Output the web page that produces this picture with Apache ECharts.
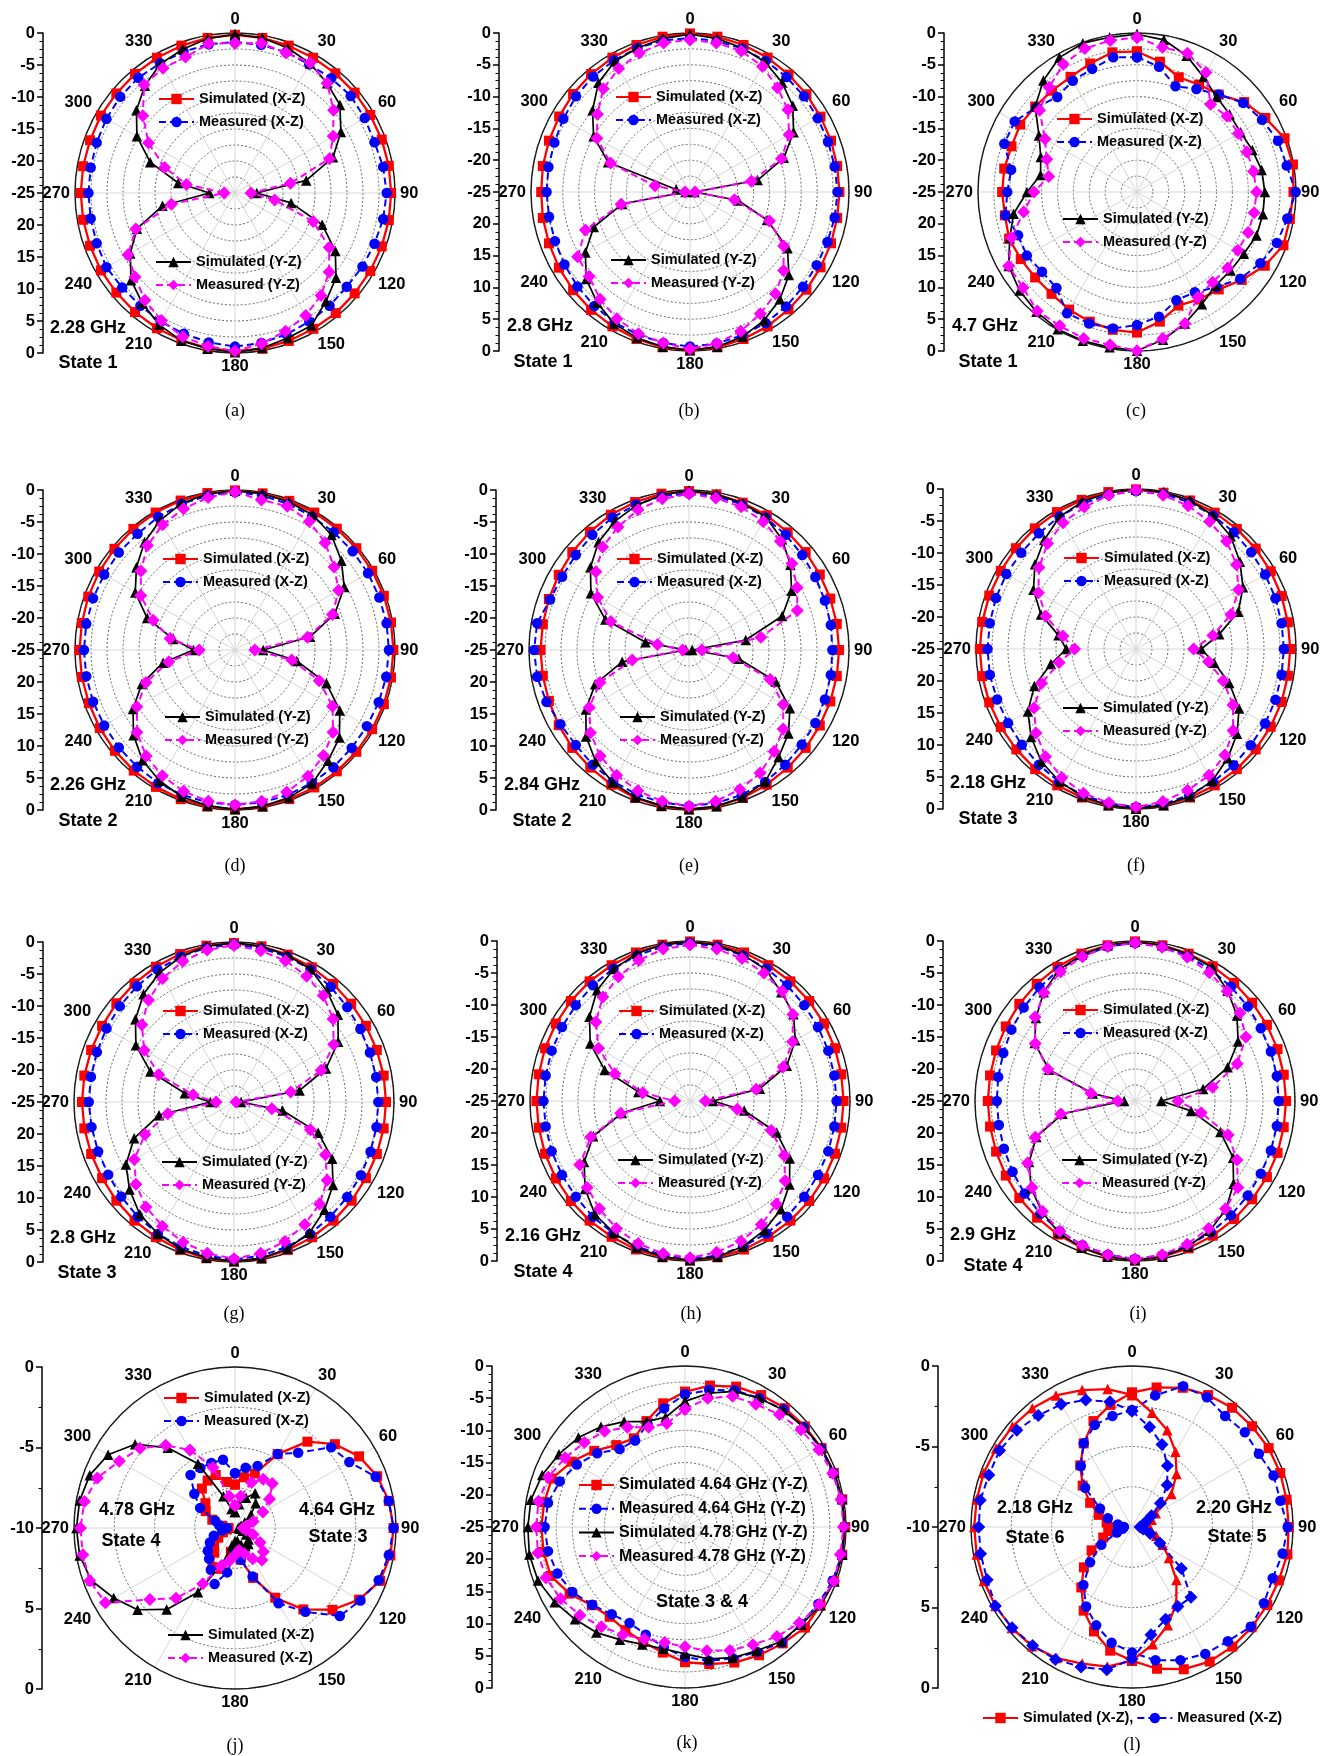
<!DOCTYPE html>
<html><head><meta charset="utf-8">
<script src="https://cdn.jsdelivr.net/npm/echarts/dist/echarts.min.js"></script>
<style>html,body{margin:0;padding:0;background:#fff}#c{width:1326px;height:1756px}</style>
</head><body><div id="c"></div>
<script>
const ANGLES = [0,10,20,30,40,50,60,70,80,90,100,110,120,130,140,150,160,170,180,190,200,210,220,230,240,250,260,270,280,290,300,310,320,330,340,350];
const ANGLE_LABELS = ['0','30','60','90','120','150','180','210','240','270','300','330'];
const TICKS_25 = ['0','-5','-10','-15','-20','-25','20','15','10','5','0'];
const TICKS_10 = ['0','-5','-10','5','0'];

// (a) 2.28 GHz State 1
const a_simXZ = [-0.3,-0.4,-0.5,-0.6,-0.6,-0.6,-0.6,-0.6,-0.6, -0.6,-0.6,-0.6,-0.6,-0.6,-0.5,-0.5,-0.4,-0.3, -0.3,-0.4,-0.5,-0.6,-0.7,-0.8,-0.8,-0.9,-0.9, -0.9,-0.9,-0.9,-0.8,-0.8,-0.7,-0.6,-0.5,-0.4];
const a_measXZ = [-1.4,-1.5,-1.6,-1.8,-1.6,-1.4,-1.6,-1.8,-1.5, -1.3,-1.5,-1.8,-2.0,-2.2,-2.0,-1.8,-1.5,-1.2, -1.0,-1.3,-1.6,-1.8,-2.0,-2.0,-1.8,-2.0,-2.1, -2.1,-2.1,-2.0,-1.8,-1.6,-1.5,-1.6,-1.5,-1.4];
const a_simYZ = [-0.2,-0.4,-0.9,-1.6,-2.6,-3.6,-5.9,-8.7,-13.7, -21.6,-16.1,-10.5,-6.9,-4.4,-2.9,-1.1,-0.9,-0.4, -0.1,-0.3,-0.45,-1.25,-2.5,-3.8,-6.1,-8.7,-13.5, -21.0,-16.0,-10.9,-7.3,-4.9,-3.1,-1.7,-1.1,-0.5];
const a_measYZ = [-1.6,-1.25,-1.7,-1.5,-2.6,-4.9,-7.3,-9.3,-16.2, -22.5,-18.7,-12.0,-8.0,-5.8,-4.1,-2.9,-2.0,-1.1, -0.3,-0.7,-1.1,-2.0,-3.1,-4.6,-5.7,-8.5,-14.9, -23.3,-17.3,-13.3,-9.4,-6.2,-2.9,-2.5,-2.4,-1.3];
// (b) 2.8 GHz State 1
const b_simXZ = [-0.1,-0.2,-0.4,-0.6,-0.9,-1.1,-1.3,-1.4,-1.5, -1.5,-1.5,-1.4,-1.3,-1.1,-0.9,-0.6,-0.4,-0.2, -0.1,-0.2,-0.4,-0.6,-0.8,-1.0,-1.2,-1.4,-1.5, -1.6,-1.5,-1.4,-1.25,-1.0,-0.8,-0.6,-0.4,-0.2];
const b_measXZ = [-0.8,-0.9,-1.0,-1.2,-1.4,-1.6,-1.8,-1.9,-1.9, -1.8,-1.9,-2.0,-2.0,-1.8,-1.5,-1.2,-1.0,-0.8, -0.7,-0.9,-1.1,-1.3,-1.6,-1.9,-2.2,-2.4,-2.5, -2.45,-2.4,-2.3,-2.0,-1.6,-1.3,-1.1,-0.9,-0.8];
const b_simYZ = [-0.2,-0.5,-0.9,-1.4,-2.5,-3.9,-6.2,-9.3,-14.2, -24.3,-17.3,-12.1,-7.3,-4.7,-3.0,-1.7,-0.8,-0.3, -0.1,-0.3,-0.6,-1.1,-2.3,-3.7,-6.0,-8.9,-14.2, -24.3,-22.8,-11.3,-7.5,-5.0,-2.6,-1.3,-0.9,-0.5];
const b_measYZ = [-1.05,-1.2,-1.4,-2.2,-3.6,-4.9,-7.0,-9.7,-15.2, -24.2,-17.9,-11.7,-8.0,-5.8,-4.1,-2.9,-1.7,-0.8, -0.35,-0.9,-1.3,-2.0,-3.0,-4.3,-4.6,-7.5,-14.0, -24.2,-19.4,-11.7,-8.1,-6.0,-3.8,-2.6,-1.75,-1.2];
// (c) 4.7 GHz State 1
const c_simXZ = [-2.9,-4.2,-5.8,-5.5,-5.0,-3.0,-1.7,-0.3,-0.1, -0.4,-0.6,-0.5,-1.8,-3.5,-5.0,-5.5,-6.0,-4.3, -2.9,-3.0,-3.3,-3.65,-4.1,-4.1,-3.9,-3.6,-3.9, -3.8,-3.8,-4.0,-3.8,-4.1,-4.2,-4.1,-3.5,-2.7];
const c_measXZ = [-3.8,-5.0,-7.3,-6.3,-5.0,-3.2,-2.3,-1.4,-1.1, -0.05,-1.0,-1.6,-2.6,-3.8,-5.5,-6.8,-6.9,-5.1, -4.1,-3.2,-3.0,-3.0,-5.3,-5.5,-5.0,-5.1,-4.0, -4.6,-4.9,-2.8,-2.8,-4.3,-5.5,-4.8,-4.4,-3.5];
const c_simYZ = [-0.2,-0.7,-2.2,-4.1,-5.5,-6.0,-6.2,-5.7,-5.1, -4.9,-4.9,-5.0,-5.6,-5.8,-5.8,-4.6,-3.0,-1.4, -0.05,-0.2,-0.1,-0.1,-0.4,-0.9,-1.7,-3.7,-5.3, -7.7,-9.6,-8.9,-7.2,-4.1,-2.1,-0.6,-0.1,-0.3];
const c_measYZ = [-0.7,-1.9,-1.8,-3.3,-7.0,-6.5,-6.6,-6.6,-6.4, -6.2,-6.3,-6.4,-6.7,-6.4,-6.5,-5.9,-3.0,-1.6, -0.05,-0.6,-0.5,-0.7,-0.6,-1.6,-1.7,-4.0,-6.9, -8.8,-10.9,-9.9,-8.3,-5.0,-3.5,-1.8,-1.0,-0.8];
// (d) 2.26 GHz State 2
const d_simXZ = [-0.1,-0.15,-0.2,-0.2,-0.25,-0.25,-0.25,-0.25,-0.25, -0.25,-0.25,-0.25,-0.25,-0.25,-0.25,-0.2,-0.2,-0.15, -0.1,-0.15,-0.2,-0.3,-0.4,-0.5,-0.6,-0.7,-0.7, -0.7,-0.7,-0.6,-0.5,-0.4,-0.3,-0.2,-0.15,-0.1];
const d_measXZ = [-0.3,-0.5,-0.7,-0.9,-1.0,-1.0,-1.0,-1.0,-0.95, -0.95,-1.0,-1.1,-1.2,-1.2,-1.1,-1.0,-0.9,-0.8, -0.8,-0.8,-0.9,-1.0,-1.2,-1.3,-1.4,-1.4,-1.4, -1.4,-1.4,-1.4,-1.4,-1.3,-1.3,-1.0,-0.7,-0.5];
const d_simYZ = [-0.1,-0.2,-0.4,-0.65,-1.55,-3.3,-5.3,-8.4,-13.1, -20.6,-15.2,-9.8,-6.1,-3.7,-2.4,-0.9,-0.45,-0.2, -0.1,-0.3,-0.6,-1.4,-2.5,-4.3,-6.6,-9.5,-13.6, -18.5,-15.2,-10.4,-7.0,-4.9,-3.0,-1.6,-0.6,-0.25];
const d_measYZ = [-0.3,-1.2,-1.1,-1.8,-3.1,-4.8,-6.3,-8.8,-13.5, -21.9,-16.0,-11.0,-7.4,-5.0,-3.5,-2.2,-1.4,-1.0, -0.8,-1.0,-1.5,-2.3,-3.4,-5.0,-7.3,-10.2,-14.5, -19.4,-14.7,-11.4,-8.0,-5.8,-3.7,-2.4,-1.5,-0.8];
// (e) 2.84 GHz State 2
const e_simXZ = [-0.2,-0.3,-0.5,-0.7,-1.0,-1.2,-1.4,-1.5,-1.55, -1.55,-1.55,-1.5,-1.4,-1.2,-1.0,-0.7,-0.4,-0.2, -0.1,-0.2,-0.4,-0.7,-1.0,-1.2,-1.5,-1.7,-1.8, -1.8,-1.8,-1.7,-1.5,-1.2,-0.9,-0.6,-0.4,-0.2];
const e_measXZ = [-0.5,-0.6,-0.8,-1.1,-1.5,-1.9,-2.2,-2.4,-2.5, -2.6,-2.5,-2.4,-2.2,-2.0,-1.6,-1.2,-0.9,-0.7, -0.6,-0.8,-1.0,-1.3,-1.6,-1.9,-1.8,-1.3,-0.9, -0.8,-0.9,-1.9,-2.1,-1.9,-1.5,-1.1,-0.8,-0.6];
const e_simYZ = [-0.1,-0.3,-0.6,-1.0,-2.4,-4.3,-6.5,-9.5,-16.0, -24.5,-17.1,-10.6,-6.8,-4.7,-3.2,-1.2,-0.5,-0.2, -0.1,-0.3,-0.5,-1.1,-2.3,-4.0,-6.4,-9.4,-14.4, -24.5,-18.1,-11.1,-7.3,-4.9,-3.0,-1.8,-0.95,-0.4];
const e_measYZ = [-0.6,-0.9,-1.2,-1.8,-2.8,-4.0,-5.5,-7.0,-13.6, -23.0,-18.0,-11.5,-8.0,-5.8,-4.3,-2.8,-1.8,-1.0, -0.6,-1.0,-1.6,-2.4,-3.4,-4.9,-7.0,-10.2,-16.0, -24.0,-20.0,-12.0,-8.5,-6.0,-4.0,-2.8,-1.7,-1.0];
// (f) 2.18 GHz State 3
const f_simXZ = [-0.1,-0.2,-0.3,-0.4,-0.5,-0.6,-0.7,-0.8,-0.9, -0.9,-0.9,-0.8,-0.7,-0.6,-0.5,-0.4,-0.3,-0.2, -0.1,-0.2,-0.3,-0.4,-0.5,-0.6,-0.6,-0.6,-0.6, -0.6,-0.6,-0.6,-0.6,-0.5,-0.4,-0.3,-0.2,-0.1];
const f_measXZ = [-0.3,-0.4,-0.6,-0.9,-1.2,-1.5,-1.7,-1.8,-1.9, -1.9,-1.9,-1.8,-1.7,-1.6,-1.3,-1.0,-0.7,-0.4, -0.3,-0.5,-0.7,-1.0,-1.4,-1.7,-1.9,-1.9,-1.8, -1.8,-1.8,-1.7,-1.6,-1.6,-1.4,-1.1,-0.8,-0.5];
const f_simYZ = [-0.05,-0.1,-0.3,-0.9,-2.0,-3.8,-5.7,-8.0,-11.8, -14.8,-12.6,-9.5,-6.4,-4.4,-2.7,-1.2,-0.5,-0.2, -0.05,-0.2,-0.5,-1.1,-2.0,-3.6,-5.5,-8.1,-11.5, -14.1,-12.7,-9.2,-6.5,-4.4,-2.7,-1.15,-0.5,-0.2];
const f_measYZ = [-0.2,-0.6,-1.2,-2.0,-3.0,-4.5,-6.5,-9.2,-12.8, -16.0,-13.5,-10.5,-7.5,-5.2,-3.4,-2.2,-1.5,-0.8, -0.3,-0.6,-1.0,-1.8,-3.0,-4.6,-6.6,-9.3,-12.8, -15.4,-13.4,-10.0,-7.4,-5.2,-3.5,-2.2,-1.4,-0.6];
// (g) 2.8 GHz State 3
const g_simXZ = [-0.2,-0.3,-0.5,-0.7,-0.9,-1.1,-1.2,-1.25,-1.25, -1.25,-1.25,-1.25,-1.2,-1.0,-0.8,-0.6,-0.4,-0.2, -0.1,-0.2,-0.4,-0.6,-0.8,-1.0,-1.2,-1.25,-1.25, -1.25,-1.25,-1.25,-1.2,-1.0,-0.8,-0.6,-0.4,-0.2];
const g_measXZ = [-0.4,-0.6,-0.8,-1.1,-1.5,-1.9,-2.2,-2.4,-2.45, -2.45,-2.4,-2.3,-2.1,-1.9,-1.6,-1.2,-0.9,-0.6, -0.4,-0.6,-0.9,-1.2,-1.6,-2.0,-2.3,-2.4,-2.4, -2.3,-2.3,-2.2,-2.0,-1.7,-1.4,-1.1,-0.8,-0.5];
const g_simYZ = [-0.1,-0.3,-0.6,-1.05,-2.4,-3.8,-6.2,-9.7,-14.6, -23.9,-17.3,-11.0,-7.3,-4.8,-3.0,-1.4,-0.6,-0.2, -0.1,-0.3,-0.6,-1.2,-2.1,-3.7,-5.5,-8.4,-13.1, -21.3,-17.2,-11.1,-7.3,-4.9,-3.0,-1.7,-0.8,-0.3];
const g_measYZ = [-0.5,-1.0,-1.5,-2.3,-3.3,-4.8,-7.0,-10.5,-16.0, -24.7,-19.0,-12.3,-8.5,-6.0,-4.2,-2.9,-1.8,-1.0, -0.5,-1.0,-1.7,-2.6,-3.6,-5.0,-7.0,-10.2,-14.5, -22.2,-18.5,-12.5,-8.8,-6.2,-4.2,-2.7,-1.6,-0.9];
// (h) 2.16 GHz State 4
const h_simXZ = [-0.1,-0.2,-0.3,-0.5,-0.6,-0.7,-0.8,-0.9,-1.0, -1.0,-1.0,-0.9,-0.8,-0.7,-0.6,-0.5,-0.3,-0.2, -0.1,-0.2,-0.3,-0.5,-0.6,-0.7,-0.8,-0.9,-1.0, -1.0,-1.0,-0.9,-0.8,-0.7,-0.6,-0.5,-0.3,-0.2];
const h_measXZ = [-0.3,-0.5,-0.8,-1.1,-1.4,-1.7,-1.9,-2.0,-2.1, -2.1,-2.1,-2.0,-1.9,-1.7,-1.4,-1.1,-0.8,-0.5, -0.3,-0.5,-0.8,-1.1,-1.4,-1.7,-1.9,-2.0,-2.1, -2.1,-2.1,-2.0,-1.9,-1.7,-1.4,-1.1,-0.8,-0.5];
const h_simYZ = [-0.1,-0.3,-0.7,-1.3,-2.8,-3.9,-6.0,-8.9,-13.9, -21.4,-16.4,-10.6,-7.0,-4.7,-2.9,-1.7,-0.8,-0.3, -0.1,-0.3,-0.6,-1.2,-1.9,-3.6,-5.9,-8.9,-14.2, -20.3,-16.8,-10.8,-7.0,-4.5,-2.4,-1.2,-0.5,-0.2];
const h_measYZ = [-0.6,-0.9,-1.3,-1.9,-2.6,-4.0,-6.5,-9.5,-14.5, -22.6,-17.5,-11.5,-8.0,-5.6,-4.0,-2.7,-1.7,-1.0, -0.5,-0.8,-1.3,-2.0,-3.0,-4.0,-5.1,-8.5,-14.0, -22.6,-17.5,-12.5,-8.5,-5.8,-3.8,-2.6,-1.6,-0.9];
// (i) 2.9 GHz State 4
const i_simXZ = [-0.1,-0.3,-0.5,-0.7,-0.9,-1.1,-1.2,-1.3,-1.4, -1.4,-1.4,-1.3,-1.2,-1.1,-0.9,-0.7,-0.5,-0.3, -0.1,-0.3,-0.6,-0.9,-1.2,-1.4,-1.7,-1.9,-2.0, -2.0,-2.0,-1.9,-1.7,-1.4,-1.1,-0.8,-0.5,-0.3];
const i_measXZ = [-0.3,-0.5,-0.9,-1.3,-1.7,-2.0,-2.3,-2.4,-2.5, -2.55,-2.5,-2.4,-2.3,-2.0,-1.7,-1.3,-0.9,-0.5, -0.3,-0.6,-1.0,-1.5,-2.0,-2.5,-2.9,-3.2,-3.4, -3.4,-3.3,-3.1,-2.7,-2.3,-1.8,-1.3,-0.9,-0.5];
const i_simYZ = [-0.1,-0.3,-0.6,-0.9,-2.5,-4.2,-6.4,-9.6,-14.2, -20.9,-16.1,-10.8,-7.3,-4.9,-2.9,-1.6,-0.8,-0.3, -0.1,-0.3,-0.6,-1.2,-2.4,-3.8,-5.9,-8.6,-13.5, -23.3,-18.3,-10.7,-6.9,-4.8,-2.8,-1.3,-0.7,-0.3];
const i_measYZ = [-0.3,-0.6,-1.1,-1.8,-2.6,-3.6,-5.0,-8.0,-12.7, -18.3,-14.5,-9.5,-6.6,-4.0,-3.0,-2.0,-1.2,-0.6, -0.3,-0.6,-1.0,-1.5,-2.5,-4.0,-5.6,-8.4,-13.2, -22.3,-18.0,-10.5,-7.0,-4.6,-2.9,-1.7,-1.0,-0.5];
// (j) 4.64 GHz State 3 / 4.78 GHz State 4 (X-Z)
const j_sim464 = [-7.3,-6.8,-6.4,-4.7,-3.0,-1.9,-1.1,-0.6,-0.3, -0.15,-0.2,-0.4,-1.1,-2.1,-3.4,-5.0,-6.7,-8.0, -8.6,-8.5,-7.3,-7.2,-8.0,-8.3,-8.8,-9.2,-9.5, -9.6,-9.2,-8.5,-7.9,-7.6,-6.8,-6.6,-6.5,-7.1];
const j_meas464 = [-6.6,-6.2,-5.9,-4.7,-3.9,-2.2,-1.8,-0.7,-0.3, -0.15,-0.3,-0.5,-1.0,-1.5,-3.2,-4.6,-6.8,-8.0, -8.5,-7.2,-6.3,-7.0,-7.5,-7.8,-8.2,-8.6,-9.2, -9.5,-9.0,-8.7,-7.5,-6.7,-5.7,-5.7,-5.7,-5.7];
const j_sim478 = [-9.0,-8.5,-8.0,-7.5,-8.0,-8.7,-9.3,-9.6,-9.7, -9.8,-9.7,-9.5,-9.2,-8.9,-8.7,-8.7,-8.9,-9.2, -9.2,-8.9,-7.6,-5.4,-3.4,-2.1,-1.3,-0.5,-0.2, -0.15,-0.2,-0.4,-0.9,-1.9,-3.5,-5.4,-7.9,-8.8];
const j_meas478 = [-8.6,-8.0,-7.0,-6.5,-6.4,-7.2,-8.0,-8.8,-9.3, -9.5,-9.3,-8.8,-8.2,-7.7,-7.4,-7.8,-8.3,-8.6, -8.3,-7.9,-7.5,-6.0,-4.3,-3.1,-0.7,-0.4,-0.4, -0.4,-0.5,-0.9,-1.7,-2.3,-3.3,-4.4,-6.0,-8.0];
// (k) State 3 & 4 (Y-Z)
const k_sim464 = [-4.0,-2.7,-1.8,-1.35,-0.9,-0.7,-0.5,-0.4,-0.2, -0.1,-0.2,-0.4,-0.7,-0.7,-1.4,-2.0,-2.6,-3.4, -4.0,-5.2,-6.0,-6.5,-6.8,-6.1,-4.3,-2.8,-2.7, -2.7,-2.8,-3.0,-4.7,-6.6,-8.4,-9.1,-7.5,-5.5];
const k_meas464 = [-4.4,-3.4,-2.4,-1.9,-1.2,-0.9,-0.6,-0.5,-0.3, -0.3,-0.3,-0.6,-1.1,-1.55,-1.6,-2.6,-3.3,-3.9, -4.8,-6.0,-7.2,-7.8,-7.3,-6.2,-4.8,-3.9,-3.4, -3.2,-3.4,-4.3,-5.6,-7.2,-9.2,-9.5,-8.0,-6.3];
const k_sim478 = [-5.5,-3.9,-2.6,-1.9,-1.3,-0.9,-0.5,-0.3,-0.2, -0.2,-0.2,-0.3,-0.7,-1.4,-1.8,-2.8,-3.4,-4.2, -5.3,-5.8,-5.6,-4.8,-3.6,-2.7,-1.65,-0.7,-0.45, -0.6,-0.7,-1.4,-2.4,-3.4,-4.7,-6.1,-7.6,-7.7];
const k_meas478 = [-6.7,-4.7,-3.4,-3.0,-2.2,-1.5,-1.0,-0.6,-0.4, -0.4,-0.5,-0.4,-0.9,-1.8,-2.8,-3.9,-4.6,-5.5, -6.4,-6.8,-6.5,-5.7,-4.8,-3.7,-2.7,-2.0,-1.8, -1.9,-1.9,-2.4,-3.5,-4.6,-5.6,-7.1,-8.5,-8.7];
// (l) 2.20 GHz State 5 / 2.18 GHz State 6 (X-Z)
const l_sim220 = [-1.65,-1.2,-0.8,-0.54,-0.33,-0.27,-0.2,-0.2,-0.25, -0.27,-0.2,-0.3,-0.3,-0.3,-0.3,-0.35,-0.6,-1.06, -1.7,-2.2,-3.1,-4.0,-5.1,-6.1,-7.1,-8.1,-8.5, -8.8,-8.4,-7.8,-7.0,-6.0,-5.0,-4.0,-3.0,-2.3];
const l_meas220 = [-2.75,-1.7,-0.7,-0.7,-1.0,-0.85,-0.9,-0.64,-0.64, -0.33,-0.5,-0.7,-0.54,-0.37,-0.74,-0.9,-1.2,-1.6, -2.2,-2.7,-3.5,-4.3,-5.3,-6.6,-7.8,-9.0,-9.4, -9.5,-9.1,-8.4,-7.7,-6.2,-5.05,-4.0,-3.25,-3.0];
const l_sim218 = [-1.8,-2.8,-3.6,-4.6,-5.7,-6.8,-8.3,-8.7,-9.0, -9.1,-8.8,-8.4,-7.8,-7.0,-5.7,-4.5,-3.5,-2.6, -1.7,-1.2,-0.97,-0.6,-0.34,-0.25,-0.2,-0.2,-0.2, -0.2,-0.2,-0.2,-0.25,-0.3,-0.37,-0.56,-0.95,-1.3];
const l_meas218 = [-2.8,-3.7,-4.55,-5.6,-6.6,-7.7,-8.6,-9.1,-9.3, -9.5,-9.3,-8.8,-8.0,-6.0,-4.3,-4.3,-3.9,-3.2, -1.8,-1.0,-0.75,-0.5,-0.4,-0.27,-0.2,-0.43,-0.45, -0.48,-0.43,-0.54,-0.5,-0.66,-0.95,-1.2,-1.6,-2.1];

const FONT = '"Liberation Sans", Arial, sans-serif';
const STYLES = {
  simXZ:   {color:'#ff0000', symbol:'rect', size:10, type:'solid', width:2.3},
  measXZ:  {color:'#0000ff', symbol:'circle', size:10.5, type:[7,4], width:2},
  simYZ:   {color:'#000000', symbol:'triangle', size:10.5, type:'solid', width:1.7},
  measYZ:  {color:'#ff00ff', symbol:'diamond', size:13, type:[7,4], width:2},
  simXZtri:{color:'#ff0000', symbol:'triangle', size:10.5, type:'solid', width:2.3},
  measXZdia:{color:'#0000ff', symbol:'diamond', size:13, type:[7,4], width:2}
};
const XZ4 = (p)=>[['Simulated (X-Z)',p[0],'simXZ'],['Measured (X-Z)',p[1],'measXZ'],['Simulated (Y-Z)',p[2],'simYZ'],['Measured (Y-Z)',p[3],'measYZ']];

const PANELS = [
 {id:'a',cx:235,cy:193,R:160,ax:43,span:25,series:XZ4([a_simXZ,a_measXZ,a_simYZ,a_measYZ]),legends:[{items:[0,1],x:158,y:99},{items:[2,3],x:155,y:262}],texts:[['2.28 GHz',88,328],['State 1',88,363]],cap:['(a)',235,411]},
 {id:'b',cx:690,cy:192,R:159,ax:499,span:25,series:XZ4([b_simXZ,b_measXZ,b_simYZ,b_measYZ]),legends:[{items:[0,1],x:615,y:97},{items:[2,3],x:610,y:260}],texts:[['2.8 GHz',540,326],['State 1',543,362]],cap:['(b)',689,411]},
 {id:'c',cx:1137,cy:192,R:159,ax:944,span:25,series:XZ4([c_simXZ,c_measXZ,c_simYZ,c_measYZ]),legends:[{items:[0,1],x:1056,y:119},{items:[2,3],x:1062,y:219}],texts:[['4.7 GHz',985,326],['State 1',988,362]],cap:['(c)',1136,411]},
 {id:'d',cx:235,cy:650,R:160,ax:43,span:25,series:XZ4([d_simXZ,d_measXZ,d_simYZ,d_measYZ]),legends:[{items:[0,1],x:162,y:559},{items:[2,3],x:164,y:717}],texts:[['2.26 GHz',88,785],['State 2',88,821]],cap:['(d)',235,866]},
 {id:'e',cx:689,cy:650,R:160,ax:496,span:25,series:XZ4([e_simXZ,e_measXZ,e_simYZ,e_measYZ]),legends:[{items:[0,1],x:616,y:559},{items:[2,3],x:619,y:717}],texts:[['2.84 GHz',542,785],['State 2',542,821]],cap:['(e)',689,866]},
 {id:'f',cx:1136,cy:649,R:160,ax:943,span:25,series:XZ4([f_simXZ,f_measXZ,f_simYZ,f_measYZ]),legends:[{items:[0,1],x:1063,y:558},{items:[2,3],x:1062,y:708}],texts:[['2.18 GHz',988,783],['State 3',988,819]],cap:['(f)',1136,866]},
 {id:'g',cx:234,cy:1102,R:160,ax:43,span:25,series:XZ4([g_simXZ,g_measXZ,g_simYZ,g_measYZ]),legends:[{items:[0,1],x:162,y:1011},{items:[2,3],x:161,y:1162}],texts:[['2.8 GHz',83,1238],['State 3',87,1273]],cap:['(g)',234,1314]},
 {id:'h',cx:690,cy:1101,R:160,ax:497,span:25,series:XZ4([h_simXZ,h_measXZ,h_simYZ,h_measYZ]),legends:[{items:[0,1],x:618,y:1011},{items:[2,3],x:617,y:1160}],texts:[['2.16 GHz',543,1236],['State 4',543,1272]],cap:['(h)',691,1314]},
 {id:'i',cx:1135,cy:1101,R:160,ax:943,span:25,series:XZ4([i_simXZ,i_measXZ,i_simYZ,i_measYZ]),legends:[{items:[0,1],x:1062,y:1010},{items:[2,3],x:1061,y:1160}],texts:[['2.9 GHz',983,1235],['State 4',993,1266]],cap:['(i)',1138,1314]},
 {id:'j',cx:235,cy:1528,R:161,ax:42,span:10,series:[['Simulated (X-Z)',j_sim464,'simXZ'],['Measured (X-Z)',j_meas464,'measXZ'],['Simulated (X-Z)',j_sim478,'simYZ'],['Measured (X-Z)',j_meas478,'measYZ']],legends:[{items:[0,1],x:163,y:1398},{items:[2,3],x:167,y:1635}],texts:[['4.78 GHz',137,1510],['State 4',131,1541],['4.64 GHz',337,1510],['State 3',338,1537]],cap:['(j)',235,1746]},
 {id:'k',cx:685,cy:1527,R:161,ax:492,span:25,series:[['Simulated 4.64 GHz (Y-Z)',k_sim464,'simXZ'],['Measured 4.64 GHz (Y-Z)',k_meas464,'measXZ'],['Simulated 4.78 GHz (Y-Z)',k_sim478,'simYZ'],['Measured 4.78 GHz (Y-Z)',k_meas478,'measYZ']],legends:[{items:[0,1,2,3],x:578,y:1485,fs:16,lh:17,gap:6.7}],texts:[['State 3 & 4',702,1602]],cap:['(k)',687,1743]},
 {id:'l',cx:1132,cy:1527,R:161,ax:938,span:10,series:[['Simulated (X-Z),',l_sim220,'simXZ'],['Measured (X-Z)',l_meas220,'measXZ'],['Simulated 2.18 GHz (X-Z)',l_sim218,'simXZtri'],['Measured 2.18 GHz (X-Z)',l_meas218,'measXZdia']],legends:[{items:[0,1],x:982,y:1718,orient:'horizontal',gap:3}],texts:[['2.18 GHz',1035,1508],['State 6',1035,1538],['2.20 GHz',1234,1508],['State 5',1237,1537]],cap:['(l)',1132,1745]}
];

function toPolar(vals){ const d = ANGLES.map((a,i)=>[vals[i], a]); d.push([vals[0], 360]); return d; }

const option = {animation:false, backgroundColor:'#ffffff', polar:[], angleAxis:[], radiusAxis:[], grid:[], xAxis:[], yAxis:[], legend:[], series:[], graphic:{elements:[]}};

PANELS.forEach((p,i)=>{
  option.polar.push({center:[p.cx,p.cy], radius:p.R});
  option.angleAxis.push({polarIndex:i, type:'value', min:0, max:360, interval:30, startAngle:90, clockwise:true,
    axisLine:{show:true, lineStyle:{color:'#1a1a1a', width:1.4}},
    axisTick:{show:false},
    axisLabel:{show:true, margin:5, color:'#000', fontSize:16.5, fontWeight:'bold', fontFamily:FONT,
      formatter:(v)=>ANGLE_LABELS[Math.round(v/30)] || ''},
    splitLine:{show:true, lineStyle:{color:'#d6d6d6', width:1}}
  });
  option.radiusAxis.push({polarIndex:i, type:'value', min:-p.span, max:0, interval:2.5,
    axisLine:{show:false}, axisTick:{show:false}, axisLabel:{show:false},
    splitLine:{show:true, lineStyle:{color:'#666', width:1, type:[2,2]}}
  });
  const labs = p.span===25 ? TICKS_25 : TICKS_10;
  option.grid.push({left:p.ax, top:p.cy-p.R, width:10, height:2*p.R});
  option.xAxis.push({gridIndex:i, type:'value', show:false, min:0, max:1});
  option.yAxis.push({gridIndex:i, type:'value', min:0, max:2*p.span, interval:5,
    axisLine:{show:true, lineStyle:{color:'#000', width:1.5}},
    axisTick:{show:true, length:6, lineStyle:{color:'#000', width:1.5}},
    minorTick:{show:true, splitNumber:p.span===25?4:2, length:3.5, lineStyle:{color:'#000', width:1}},
    splitLine:{show:false},
    axisLabel:{show:true, margin:8, color:'#000', fontSize:16.5, fontWeight:'bold', fontFamily:FONT,
      formatter:(v)=>labs[Math.round((2*p.span - v)/5)]}
  });
  const names = [];
  p.series.forEach((s,k)=>{
    const st = STYLES[s[2]];
    const nm = s[0] + '|' + p.id + k;
    names.push(nm);
    option.series.push({type:'line', name:nm, coordinateSystem:'polar', polarIndex:i,
      data:toPolar(s[1]), symbol:st.symbol, symbolSize:st.size, smooth:false, clip:false,
      itemStyle:{color:st.color}, lineStyle:{color:st.color, width:st.width, type:st.type},
      z: 2 + k
    });
  });
  p.legends.forEach(L=>{
    const fs = L.fs || 14.5, lh = L.lh || 16;
    option.legend.push({orient:L.orient||'vertical', left:L.x, top:L.y - lh/2, padding:0,
      itemWidth:35, itemHeight:13, itemGap:(L.gap!==undefined?L.gap:7), selectedMode:false,
      textStyle:{fontFamily:FONT, fontWeight:'bold', fontSize:fs, color:'#000', lineHeight:lh},
      formatter:(n)=>n.split('|')[0],
      data:L.items.map(k=>({name:names[k]}))
    });
  });
  p.texts.forEach(t=>{
    option.graphic.elements.push({type:'text', x:t[1], y:t[2], z:100,
      style:{text:t[0], font:'bold 18px ' + FONT, fill:'#000', textAlign:'center', textVerticalAlign:'middle', align:'center', verticalAlign:'middle'}});
  });
  option.graphic.elements.push({type:'text', x:p.cap[1], y:p.cap[2], z:100,
    style:{text:p.cap[0], font:'18px "Liberation Serif", "Times New Roman", serif', fill:'#000', textAlign:'center', textVerticalAlign:'middle', align:'center', verticalAlign:'middle'}});
});

const chart = echarts.init(document.getElementById('c'), null, {renderer:'canvas', width:1326, height:1756});
chart.setOption(option);
</script>
</body></html>
